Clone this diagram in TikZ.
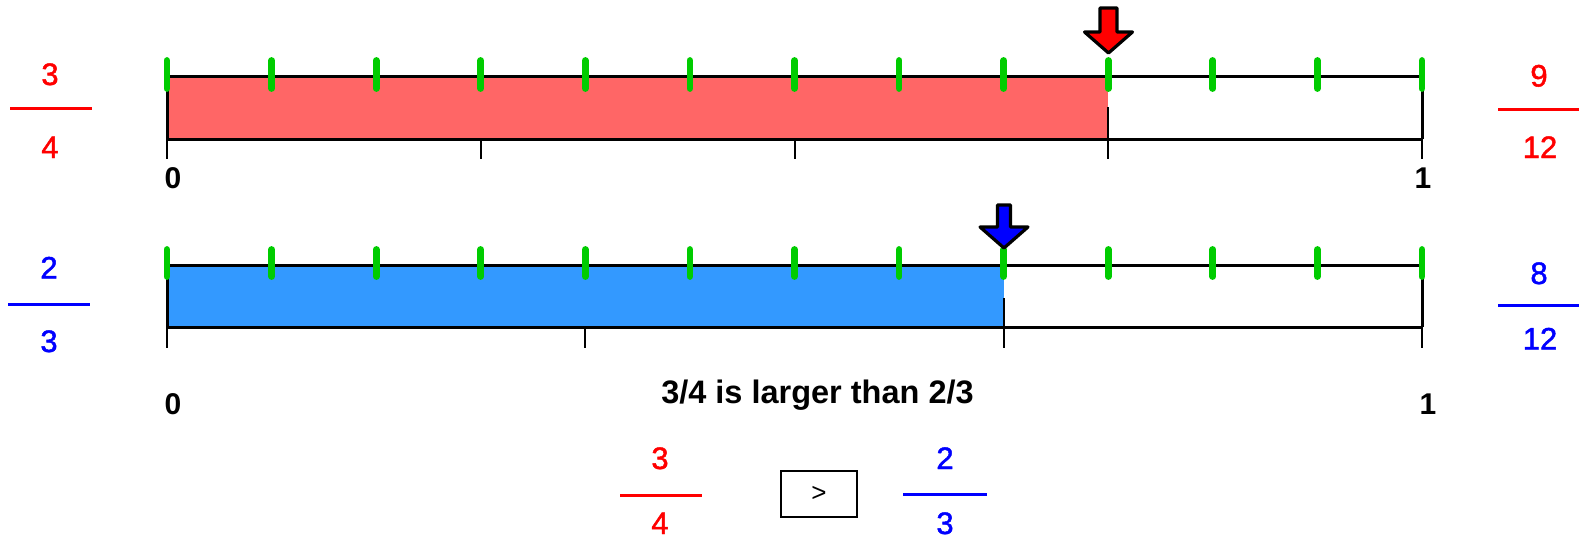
\documentclass[tikz,border=0pt]{standalone}
\usepackage{fontspec}
\setmainfont{Liberation Sans}
\newfontfamily\digitfont[FakeBold=1.5]{Liberation Sans}
\definecolor{fracred}{RGB}{255,0,0}
\definecolor{fracblue}{RGB}{0,0,255}
\definecolor{redfill}{RGB}{255,102,102}
\definecolor{bluefill}{RGB}{51,153,255}
\definecolor{tickgreen}{RGB}{0,204,0}
\tikzset{
  digit/.style={inner sep=0pt, anchor=base, font=\fontsize{31}{31}\digitfont},
  endlabel/.style={inner sep=0pt, anchor=base, font=\fontsize{30}{30}\selectfont\bfseries},
  barline/.style={line width=3pt},
  smalltick/.style={line width=2pt},
  greentick/.style={line width=6.8pt, tickgreen, line cap=round},
  fracline/.style={line width=3pt},
  arrowshape/.style={draw=black, line width=3.2pt, line join=round},
}
\begin{document}
\begin{tikzpicture}[x=1pt,y=-1pt]
\useasboundingbox (0,0) rectangle (1579,541);
\def\dx{104.583}
% ---------- top bar (3/4 = 9/12) ----------
\fill[redfill] (167,76) rectangle (1108.25,139);
\draw[smalltick] (1108.25,107) -- (1108.25,159);
\foreach \i in {0,3,6,12} { \draw[smalltick] ({167+\i*\dx},139) -- ({167+\i*\dx},159); }
\draw[barline] (167,76) -- (1422,76);
\draw[barline] (167,139) -- (1422,139);
\draw[barline] (167,76) -- (167,139);
\draw[barline] (1422,76) -- (1422,139);
\foreach \i in {0,...,12} { \draw[greentick] ({167+\i*\dx},60.5) -- ({167+\i*\dx},88.5); }
\draw[arrowshape, fill=fracred] (1100,8) -- (1117,8) -- (1117,32) -- (1132.5,32) -- (1108.5,53) -- (1084.5,32) -- (1100,32) -- cycle;
\node[endlabel] (zeroA) at (173,188) {0};
\node[endlabel] (oneA) at (1423,188) {1};
% ---------- bottom bar (2/3 = 8/12) ----------
\fill[bluefill] (167,265) rectangle (1003.67,327);
\draw[smalltick] (1003.67,298) -- (1003.67,348);
\foreach \i in {0,4,12} { \draw[smalltick] ({167+\i*\dx},327) -- ({167+\i*\dx},348); }
\draw[barline] (167,265) -- (1422,265);
\draw[barline] (167,327) -- (1422,327);
\draw[barline] (167,265) -- (167,327);
\draw[barline] (1422,265) -- (1422,327);
\foreach \i in {0,...,12} { \draw[greentick] ({167+\i*\dx},249.5) -- ({167+\i*\dx},276.5); }
\draw[arrowshape, fill=fracblue] (997.5,205) -- (1010.5,205) -- (1010.5,227) -- (1028,227) -- (1004,248) -- (980,227) -- (997.5,227) -- cycle;
\node[endlabel] (zeroB) at (173,414) {0};
\node[endlabel] (oneB) at (1428,414) {1};
% ---------- fractions beside the bars ----------
\begin{scope}[fracred]
\node[digit] (n1) at (50,85) {3};
\draw[fracline] (10,108.5) -- (92,108.5);
\node[digit] (d1) at (50,158) {4};
\node[digit] (n2) at (1539,86.5) {9};
\draw[fracline] (1498,109.5) -- (1579,109.5);
\node[digit] (d2) at (1540,158) {12};
\end{scope}
\begin{scope}[fracblue]
\node[digit] (n3) at (49,278.5) {2};
\draw[fracline] (8,304) -- (90,304);
\node[digit] (d3) at (49,352) {3};
\node[digit] (n4) at (1539,284) {8};
\draw[fracline] (1498,305) -- (1579,305);
\node[digit] (d4) at (1540,349.5) {12};
\end{scope}
% ---------- comparison ----------
\node[inner sep=0pt, anchor=base, font=\fontsize{32.5}{32.5}\selectfont\bfseries] (sent) at (817.5,403) {3/4 is larger than 2/3};
\node[digit, fracred] (n5) at (660,469) {3};
\draw[fracline, fracred] (620,495) -- (702,495);
\node[digit, fracred] (d5) at (660,534) {4};
\node[digit, fracblue] (n6) at (945,469) {2};
\draw[fracline, fracblue] (903,494) -- (987,494);
\node[digit, fracblue] (d6) at (945,534) {3};
\node[draw, line width=1.5pt, minimum width=76pt, minimum height=46pt, inner sep=0pt, font=\fontsize{26}{26}\selectfont] (cmp) at (819,494) {>};
\end{tikzpicture}
\end{document}
